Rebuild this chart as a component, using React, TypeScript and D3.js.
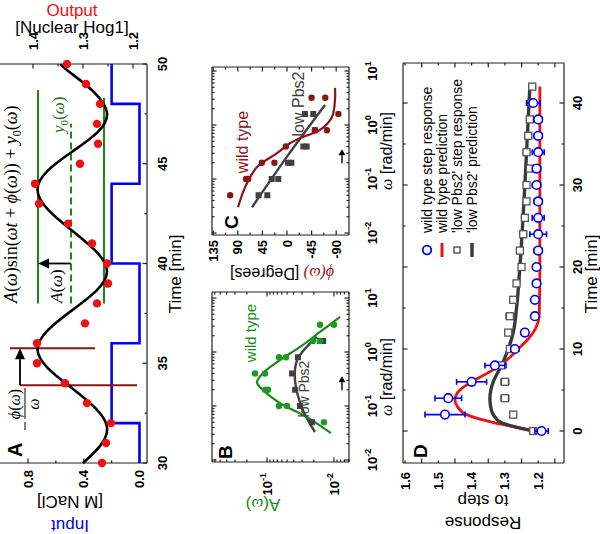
import React from 'react'
import * as d3 from 'd3'

// ---------- panel A: oscillating input and nuclear Hog1 output
const outTime = [30, 31, 32, 33, 34, 35, 36, 37, 38, 39, 40, 41, 42, 43, 44, 45, 46, 47, 48, 49, 50]
const outValue = [1.262, 1.254, 1.244, 1.292, 1.336, 1.392, 1.392, 1.296, 1.272, 1.25, 1.252, 1.282, 1.33, 1.388, 1.396, 1.306, 1.27, 1.272, 1.266, 1.294, 1.332]
const fitTime = [30, 31.8, 33.75, 35.7, 37.65, 39.6, 41.65, 43.7, 45.6, 47.55, 49.5, 50]
const fitValue = [1.30, 1.252, 1.322, 1.391, 1.322, 1.252, 1.322, 1.391, 1.322, 1.252, 1.322, 1.345]
const inputTime = [30, 32, 36, 40, 44, 48, 50]
const inputValue = [0, 0.2, 0, 0.2, 0, 0.2, 0.2]
const ampUpper = 1.39
const ampMean = 1.324
const ampLower = 1.258

// ---------- panel B: amplitude vs frequency
const ampOmegaWt = [0.05, 0.1, 0.1, 0.2, 0.2, 0.4, 0.4, 0.8, 0.8, 1.6, 1.6, 3.2, 3.2]
const ampWt = [0.0141, 0.0662, 0.0503, 0.107, 0.0966, 0.151, 0.107, 0.0662, 0.052, 0.0206, 0.0162, 0.0162, 0.0100]
const ampOmegaLow = [0.05, 0.1, 0.2, 0.4, 0.8, 1.6, 1.6]
const ampLow = [0.0213, 0.0322, 0.038, 0.0424, 0.0345, 0.0162, 0.0145]
const ampFitOmegaWt = [0.0314, 0.0622, 0.113, 0.197, 0.277, 0.407, 0.711, 1.24, 2.35, 4.46]
const ampFitWt = [0.0111, 0.0253, 0.064, 0.115, 0.141, 0.115, 0.064, 0.032, 0.0162, 0.0081]
const ampFitOmegaLow = [0.033, 0.083, 0.3, 0.71, 1.9]
const ampFitLow = [0.0192, 0.029, 0.0382, 0.0355, 0.018]

// ---------- panel C: phase vs frequency
const phOmegaWt = [0.05, 0.1, 0.1, 0.2, 0.2, 0.4, 0.8, 0.8, 1.6, 3.2, 3.2]
const phWt = [104, 75, 71, 46, 23, 2, -51, -73, -94, -45, -70]
const phOmegaLow = [0.05, 0.05, 0.1, 0.1, 0.2, 0.2, 0.4, 0.4, 0.8, 1.6, 1.6]
const phLow = [52, 36, 28, 16, -2, -8, -30, -36, -51, -33, -48]
const phFitOmegaWt = [0.03, 0.07, 0.166, 0.30, 0.46, 0.60, 0.81, 1.41, 2.92, 4.87]
const phFitWt = [89.6, 76.8, 54.9, 18.3, -5.5, -29.3, -60.4, -82.3, -87.8, -87.8]
const phFitOmegaLow = [0.03, 0.277, 2.35]
const phFitLow = [64, -2, -69.5]
const markedOmega = 0.3

// ---------- panel D: step responses
const stepTime = [0, 2, 4, 6, 8, 10, 12, 14, 16, 18, 20, 22, 24, 26, 28, 30, 32, 34, 36, 38, 40]
const wtResp = [1.19, 1.48, 1.47, 1.40, 1.33, 1.27, 1.24, 1.21, 1.21, 1.205, 1.205, 1.20, 1.20, 1.20, 1.20, 1.205, 1.205, 1.20, 1.20, 1.20, 1.215]
const wtErr = [0.02, 0.06, 0.04, 0.045, 0.03, 0.012, 0.01, 0.008, 0.008, 0.01, 0.01, 0.012, 0.025, 0.018, 0.012, 0.012, 0.012, 0.018, 0.012, 0.012, 0.02]
const lowTime = [0, 2, 4, 6, 8, 10, 12, 14, 16, 18, 20, 22, 24, 26, 28, 30, 32, 34, 36, 38, 40, 42]
const lowResp = [1.215, 1.275, 1.30, 1.30, 1.31, 1.285, 1.29, 1.285, 1.275, 1.265, 1.25, 1.255, 1.245, 1.24, 1.235, 1.235, 1.225, 1.235, 1.23, 1.225, 1.22, 1.218]
const lowErr = [0.006, 0.005, 0.012, 0.012, 0.015, 0.008, 0.01, 0.012, 0.006, 0.006, 0.006, 0.008, 0.01, 0.01, 0.008, 0.008, 0.008, 0.01, 0.01, 0.01, 0.01, 0.01]
const wtPredTime = [0, 0.5, 1, 1.5, 2, 3, 3.8, 5, 6, 7, 8, 9, 10, 11, 12, 13, 14, 20, 42]
const wtPred = [1.215, 1.27, 1.33, 1.38, 1.415, 1.443, 1.45, 1.435, 1.40, 1.355, 1.315, 1.285, 1.26, 1.235, 1.215, 1.203, 1.197, 1.195, 1.195]
const lowPredTime = [0, 0.5, 1, 2, 3, 4, 6, 8, 10, 12, 15, 20, 30, 42]
const lowPred = [1.215, 1.27, 1.31, 1.335, 1.343, 1.345, 1.335, 1.31, 1.29, 1.275, 1.265, 1.255, 1.24, 1.225]
const legendLabels = ['wild type step response', 'wild type prediction', "'low Pbs2' step response", "'low Pbs2' prediction"]

const SANS = 'Liberation Sans, Arial, sans-serif'
const SERIF = 'Liberation Serif, Times New Roman, serif'
const BLUE = '#0000f0'
const RED = '#f01010'
const GREEN = '#1a881a'
const MAROON = '#8b1414'
const GRAY = '#404040'

type Tick = { p: number; major: boolean }

function linTicks(scale: d3.ScaleLinear<number, number>, lo: number, hi: number, step: number, majorEvery: number): Tick[] {
  const out: Tick[] = []
  const n = Math.round((hi - lo) / step)
  for (let i = 0; i <= n; i++) {
    const v = lo + i * step
    out.push({ p: scale(v), major: i % majorEvery === 0 })
  }
  return out
}

function logTicks(scale: d3.ScaleLogarithmic<number, number>, lo: number, hi: number): Tick[] {
  const out: Tick[] = []
  for (let e = -4; e <= 2; e++)
    for (let k = 1; k <= 9; k++) {
      const v = k * Math.pow(10, e)
      if (v >= lo && v <= hi) out.push({ p: scale(v), major: k === 1 })
    }
  return out
}

function Frame(props: { x0: number; x1: number; y0: number; y1: number; xt: Tick[]; yt: Tick[]; yt2?: Tick[]; mirror: boolean; top?: boolean }) {
  const { x0, x1, y0, y1, xt, yt, yt2, mirror } = props
  const M = 4.5, m = 2.5
  const len = (t: Tick) => (t.major ? M : m)
  const right = yt2 ?? (mirror ? yt : [])
  return (
    <g stroke="#222" strokeWidth={1.2} fill="none">
      <line x1={x0} x2={x1} y1={y1} y2={y1} />
      <line x1={x0} x2={x0} y1={y0} y2={y1} />
      <line x1={x1} x2={x1} y1={y0} y2={y1} />
      {props.top !== false && <line x1={x0} x2={x1} y1={y0} y2={y0} />}
      {xt.map((t, i) => <line key={'b' + i} x1={t.p} x2={t.p} y1={y1} y2={y1 - len(t)} />)}
      {mirror && xt.map((t, i) => <line key={'t' + i} x1={t.p} x2={t.p} y1={y0} y2={y0 + len(t)} />)}
      {yt.map((t, i) => <line key={'l' + i} x1={x0} x2={x0 + len(t)} y1={t.p} y2={t.p} />)}
      {right.map((t, i) => <line key={'r' + i} x1={x1} x2={x1 - len(t)} y1={t.p} y2={t.p} />)}
    </g>
  )
}

function Pow10({ x, y, e, anchor }: { x: number; y: number; e: number; anchor: string }) {
  return (
    <text x={x} y={y} textAnchor={anchor} fontFamily={SANS} fontWeight="bold" fontSize={13}>
      10<tspan dy={-6} fontSize={9}>{e}</tspan>
    </text>
  )
}

function Arrow({ x1, y1, x2, y2, head = 9, w = 4, color = '#000', sw = 1.8 }: { x1: number; y1: number; x2: number; y2: number; head?: number; w?: number; color?: string; sw?: number }) {
  const dx = x2 - x1, dy = y2 - y1
  const L = Math.hypot(dx, dy)
  const ux = dx / L, uy = dy / L
  const bx = x2 - ux * head, by = y2 - uy * head
  const pts = [[x2, y2], [bx - uy * w, by + ux * w], [bx + uy * w, by - ux * w]]
  return (
    <g>
      <line x1={x1} y1={y1} x2={bx} y2={by} stroke={color} strokeWidth={sw} />
      <polygon points={pts.map(p => p.join(',')).join(' ')} fill={color} />
    </g>
  )
}

function Figure() {
  // ---- panel A scales (figure is drawn upright, then turned a quarter)
  const xA = d3.scaleLinear().domain([30, 50]).range([71, 470])
  const yIn = d3.scaleLinear().domain([0, 0.8]).range([139.5, 28])
  const yOut = d3.scaleLinear().domain([1.2, 1.4]).range([133, 33])
  const fitLine = d3.line<number>().x((_, i) => xA(fitTime[i])).y(d => yOut(d)).curve(d3.curveNatural)
  const inLine = d3.line<number>().x((_, i) => xA(inputTime[i])).y(d => yIn(d)).curve(d3.curveStepAfter)

  const tA = linTicks(xA, 30, 50, 2.5, 2)
  const tIn = linTicks(yIn, 0, 0.8, 0.2, 2)
  const tOut = linTicks(yOut, 1.2, 1.4, 0.05, 2)

  // ---- panel B
  const xB = d3.scaleLog().domain([0.01, 10]).range([74, 236])
  const yB = d3.scaleLog().domain([0.01, 0.1]).range([334, 267])
  const fB = { x0: 72, x1: 242, y0: 212, y1: 349 }
  const ampLineWt = d3.line<number>().x((_, i) => xB(ampFitOmegaWt[i])).y(d => yB(d)).curve(d3.curveCatmullRom)
  const ampLineLow = d3.line<number>().x((_, i) => xB(ampFitOmegaLow[i])).y(d => yB(d)).curve(d3.curveCatmullRom)

  // ---- panel C
  const xC = d3.scaleLog().domain([0.01, 10]).range([301, 463])
  const yC = d3.scaleLinear().domain([-90, 135]).range([336.2, 213.2])
  const fC = { x0: 299, x1: 467, y0: 212, y1: 349 }
  const phLineWt = d3.line<number>().x((_, i) => xC(phFitOmegaWt[i])).y(d => yC(d)).curve(d3.curveCatmullRom)
  const phLineLow = d3.line<number>().x((_, i) => xC(phFitOmegaLow[i])).y(d => yC(d)).curve(d3.curveCatmullRom)

  // ---- panel D
  const xD = d3.scaleLinear().domain([0, 40]).range([103, 431])
  const yD = d3.scaleLinear().domain([1.2, 1.6]).range([538.2, 405])
  const fD = { x0: 71, x1: 471, y0: 403, y1: 564 }
  const wtLine = d3.line<number>().x((_, i) => xD(wtPredTime[i])).y(d => yD(d)).curve(d3.curveMonotoneX)
  const lowLine = d3.line<number>().x((_, i) => xD(lowPredTime[i])).y(d => yD(d)).curve(d3.curveMonotoneX)

  const tx = (x: number, y: number, a: number) => `translate(${x},${y}) rotate(${a})`

  return (
    <g transform="translate(0,534) rotate(-90)">
      {/* ===================== A ===================== */}
      <Frame x0={71} x1={470} y0={0} y1={147} xt={tA} yt={tIn} yt2={tOut} mirror={false} top={false} />
      <path d={inLine(inputValue) ?? ''} fill="none" stroke={BLUE} strokeWidth={2.6} />
      {/* amplitude guides */}
      <line x1={xA(38)} x2={xA(48.7)} y1={yOut(ampUpper)} y2={yOut(ampUpper)} stroke={GREEN} strokeWidth={2} />
      <line x1={xA(38)} x2={xA(48.3)} y1={yOut(ampLower)} y2={yOut(ampLower)} stroke={GREEN} strokeWidth={2} />
      <line x1={xA(38)} x2={xA(47)} y1={yOut(ampMean)} y2={yOut(ampMean)} stroke={GREEN} strokeWidth={2} strokeDasharray="7,4" />
      {/* phase guides */}
      <line x1={xA(35.75)} x2={xA(35.75)} y1={10} y2={95} stroke={MAROON} strokeWidth={2} />
      <line x1={xA(33.9)} x2={xA(33.9)} y1={20} y2={137} stroke={MAROON} strokeWidth={2} />
      <path d={fitLine(fitValue) ?? ''} fill="none" stroke="#000" strokeWidth={2.6} />
      {outValue.map((v, i) => <circle key={i} cx={xA(outTime[i])} cy={yOut(v)} r={4.2} fill={RED} />)}
      <Arrow x1={xA(33.9)} y1={20} x2={xA(35.75)} y2={20} head={11} w={5} />
      <Arrow x1={xA(40)} y1={yOut(ampMean)} x2={xA(40)} y2={yOut(ampUpper)} head={11} w={5} />
      <text x={77} y={22} fontFamily={SANS} fontWeight="bold" fontSize={20}>A</text>
      {/* -phi/omega */}
      <g fontFamily={SERIF} fontSize={16}>
        <line x1={104} x2={112} y1={25} y2={25} stroke="#000" strokeWidth={1} />
        <line x1={115} x2={146} y1={25} y2={25} stroke="#000" strokeWidth={1} />
        <text x={130} y={20} textAnchor="middle" fontStyle="italic">ϕ<tspan fontStyle="normal">(</tspan>ω<tspan fontStyle="normal">)</tspan></text>
        <text x={130} y={39} textAnchor="middle" fontStyle="italic">ω</text>
      </g>
      <text x={231} y={17} fontFamily={SERIF} fontSize={18}>
        <tspan fontStyle="italic">A</tspan>{'('}<tspan fontStyle="italic">ω</tspan>{')sin('}<tspan fontStyle="italic">ωt</tspan>{' + '}<tspan fontStyle="italic">ϕ</tspan>{'('}<tspan fontStyle="italic">ω</tspan>{')) + '}<tspan fontStyle="italic">y</tspan><tspan fontSize={12} dy={4}>0</tspan><tspan dy={-4}>(</tspan><tspan fontStyle="italic">ω</tspan>{')'}
      </text>
      <text x={231} y={62} fontFamily={SERIF} fontSize={17}>
        <tspan fontStyle="italic">A</tspan>{'('}<tspan fontStyle="italic">ω</tspan>{')'}
      </text>
      <text x={401} y={64} fontFamily={SERIF} fontSize={17} fill="#2a6a2a">
        <tspan fontStyle="italic">y</tspan><tspan fontSize={11} dy={4}>0</tspan><tspan dy={-4}>(</tspan><tspan fontStyle="italic">ω</tspan>{')'}
      </text>
      {/* A axes labels */}
      <g fontFamily={SANS} fontWeight="bold" fontSize={13}>
        {[30, 35, 40, 45, 50].map(v => <text key={v} x={xA(v)} y={167} textAnchor="middle">{v}</text>)}
        {[0, 0.4, 0.8].map(v => <text key={v} x={64} y={yIn(v)} dy="0.35em" textAnchor="end">{v.toFixed(1)}</text>)}
        {[1.2, 1.3, 1.4].map(v => <text key={v} x={484} y={yOut(v)} dy="0.35em">{v.toFixed(1)}</text>)}
      </g>
      <text x={260} y={181} textAnchor="middle" fontFamily={SANS} fontSize={17}>Time [min]</text>
      <g fontFamily={SANS} fontSize={17} textAnchor="middle">
        <text transform={tx(14, 70, -90)} fill={BLUE}>Input</text>
        <text transform={tx(38, 70, -90)}>[M NaCl]</text>
        <text transform={tx(518, 72, 90)} fill={RED}>Output</text>
        <text transform={tx(501, 72, 90)}>[Nuclear Hog1]</text>
      </g>

      {/* ===================== B ===================== */}
      <Frame {...fB} xt={logTicks(xB, xB.invert(fB.x0), xB.invert(fB.x1))} yt={logTicks(yB, yB.invert(fB.y1), yB.invert(fB.y0))} mirror={true} />
      <path d={ampLineLow(ampFitLow) ?? ''} fill="none" stroke={GRAY} strokeWidth={2.4} />
      <path d={ampLineWt(ampFitWt) ?? ''} fill="none" stroke={GREEN} strokeWidth={2.2} />
      {ampLow.map((v, i) => <rect key={i} x={xB(ampOmegaLow[i]) - 3} y={yB(v) - 3} width={6} height={6} fill={GRAY} />)}
      {ampWt.map((v, i) => <circle key={i} cx={xB(ampOmegaWt[i])} cy={yB(v)} r={3.2} fill="#1f9a1f" />)}
      <text x={75} y={232} fontFamily={SANS} fontWeight="bold" fontSize={19}>B</text>
      <text x={201} y={256} textAnchor="middle" fontFamily={SANS} fontSize={15} fill={GREEN}>wild type</text>
      <text x={145} y={309} textAnchor="middle" fontFamily={SANS} fontSize={14} fill={GRAY}>low Pbs2</text>
      <Arrow x1={xB(markedOmega) - 10} y1={342} x2={xB(markedOmega) + 4} y2={342} head={6} w={3.5} sw={1.4} />
      {[-2, -1, 0, 1].map(e => <Pow10 key={e} x={xB(Math.pow(10, e))} y={377} e={e} anchor="middle" />)}
      {[-1, -2].map(e => <Pow10 key={e} x={61} y={yB(Math.pow(10, e)) + 5} e={e} anchor="end" />)}
      <text transform={tx(35, 263, -90)} textAnchor="middle" fontFamily={SANS} fontSize={17} fill={GREEN}>A(<tspan fontFamily={SERIF} fontStyle="italic">ω</tspan>)</text>
      <text x={(fB.x0 + fB.x1) / 2} y={392} textAnchor="middle" fontFamily={SANS} fontSize={16}><tspan fontFamily={SERIF} fontStyle="italic">ω</tspan> [rad/min]</text>

      {/* ===================== C ===================== */}
      <Frame {...fC} xt={logTicks(xC, xC.invert(fC.x0), xC.invert(fC.x1))} yt={linTicks(yC, -90, 135, 22.5, 2)} mirror={true} />
      <path d={phLineLow(phFitLow) ?? ''} fill="none" stroke={GRAY} strokeWidth={2.4} />
      <path d={phLineWt(phFitWt) ?? ''} fill="none" stroke={MAROON} strokeWidth={2.2} />
      {phLow.map((v, i) => <rect key={i} x={xC(phOmegaLow[i]) - 3} y={yC(v) - 3} width={6} height={6} fill={GRAY} />)}
      {phWt.map((v, i) => <circle key={i} cx={xC(phOmegaWt[i])} cy={yC(v)} r={3.2} fill={MAROON} />)}
      <text x={305} y={238} fontFamily={SANS} fontWeight="bold" fontSize={19}>C</text>
      <text x={392} y={248} textAnchor="middle" fontFamily={SANS} fontSize={16} fill={MAROON}>wild type</text>
      <text x={430} y={304} textAnchor="middle" fontFamily={SANS} fontSize={16} fill={GRAY}>low Pbs2</text>
      <Arrow x1={xC(markedOmega) - 10} y1={342} x2={xC(markedOmega) + 4} y2={342} head={6} w={3.5} sw={1.4} />
      {[-2, -1, 0, 1].map(e => <Pow10 key={e} x={xC(Math.pow(10, e))} y={377} e={e} anchor="middle" />)}
      <g fontFamily={SANS} fontWeight="bold" fontSize={13}>
        {[135, 90, 45, 0, -45, -90].map(v => <text key={v} x={294} y={yC(v)} dy="0.35em" textAnchor="end">{v}</text>)}
      </g>
      <text transform={tx(266, 282, -90)} textAnchor="middle" fontFamily={SANS} fontSize={16}>
        <tspan fill={MAROON} fontFamily={SERIF} fontStyle="italic">ϕ(ω)</tspan> [Degrees]
      </text>
      <text x={(fC.x0 + fC.x1) / 2} y={392} textAnchor="middle" fontFamily={SANS} fontSize={16}><tspan fontFamily={SERIF} fontStyle="italic">ω</tspan> [rad/min]</text>

      {/* ===================== D ===================== */}
      <Frame {...fD} xt={linTicks(xD, -0, 40, 5, 2)} yt={linTicks(yD, 1.15, 1.6, 0.05, 2)} mirror={true} />
      <path d={wtLine(wtPred) ?? ''} fill="none" stroke={RED} strokeWidth={2.8} />
      <path d={lowLine(lowPred) ?? ''} fill="none" stroke="#3a3a3a" strokeWidth={3.4} />
      {lowResp.map((v, i) => {
        const x = xD(lowTime[i])
        return (
          <g key={i} stroke="#555" strokeWidth={1.3}>
            <line x1={x} x2={x} y1={yD(v - lowErr[i])} y2={yD(v + lowErr[i])} />
            <line x1={x - 3} x2={x + 3} y1={yD(v - lowErr[i])} y2={yD(v - lowErr[i])} />
            <line x1={x - 3} x2={x + 3} y1={yD(v + lowErr[i])} y2={yD(v + lowErr[i])} />
            <rect x={x - 3.5} y={yD(v) - 3.5} width={7} height={7} fill="#fff" />
          </g>
        )
      })}
      {wtResp.map((v, i) => {
        const x = xD(stepTime[i])
        return (
          <g key={i} stroke={BLUE} strokeWidth={1.6}>
            <line x1={x} x2={x} y1={yD(v - wtErr[i])} y2={yD(v + wtErr[i])} />
            <line x1={x - 3} x2={x + 3} y1={yD(v - wtErr[i])} y2={yD(v - wtErr[i])} />
            <line x1={x - 3} x2={x + 3} y1={yD(v + wtErr[i])} y2={yD(v + wtErr[i])} />
            <circle cx={x} cy={yD(v)} r={4.3} fill="#fff" />
          </g>
        )
      })}
      <text x={76} y={427} fontFamily={SANS} fontWeight="bold" fontSize={19}>D</text>
      {/* legend */}
      <circle cx={284} cy={427} r={4.3} fill="#fff" stroke={BLUE} strokeWidth={1.8} />
      <line x1={277} x2={291} y1={442} y2={442} stroke={RED} strokeWidth={3} />
      <rect x={281} y={454} width={6} height={6} fill="#fff" stroke="#444" strokeWidth={1.3} />
      <line x1={277} x2={291} y1={472} y2={472} stroke="#3a3a3a" strokeWidth={3.5} />
      <g fontFamily={SANS} fontSize={14}>
        {legendLabels.map((s, i) => <text key={s} x={301} y={[427, 442, 457, 472][i] + 5}>{s}</text>)}
      </g>
      <g fontFamily={SANS} fontWeight="bold" fontSize={13}>
        {[0, 10, 20, 30, 40].map(v => <text key={v} x={xD(v)} y={582} textAnchor="middle">{v}</text>)}
        {[1.2, 1.3, 1.4, 1.5, 1.6].map(v => <text key={v} x={62} y={yD(v)} dy="0.35em" textAnchor="end">{v.toFixed(1)}</text>)}
      </g>
      <text x={260} y={597} textAnchor="middle" fontFamily={SANS} fontSize={17}>Time [min]</text>
      <g fontFamily={SANS} fontSize={17} textAnchor="middle">
        <text transform={tx(17, 483, -90)}>Response</text>
        <text transform={tx(39, 483, -90)}>to step</text>
      </g>
    </g>
  )
}

export default function App() {
  return (
    <svg width={600} height={534} viewBox="0 0 600 534" style={{ position: 'absolute', left: 0, top: 0, background: '#fff' }}>
      <rect width={600} height={534} fill="#fff" />
      <Figure />
    </svg>
  )
}
